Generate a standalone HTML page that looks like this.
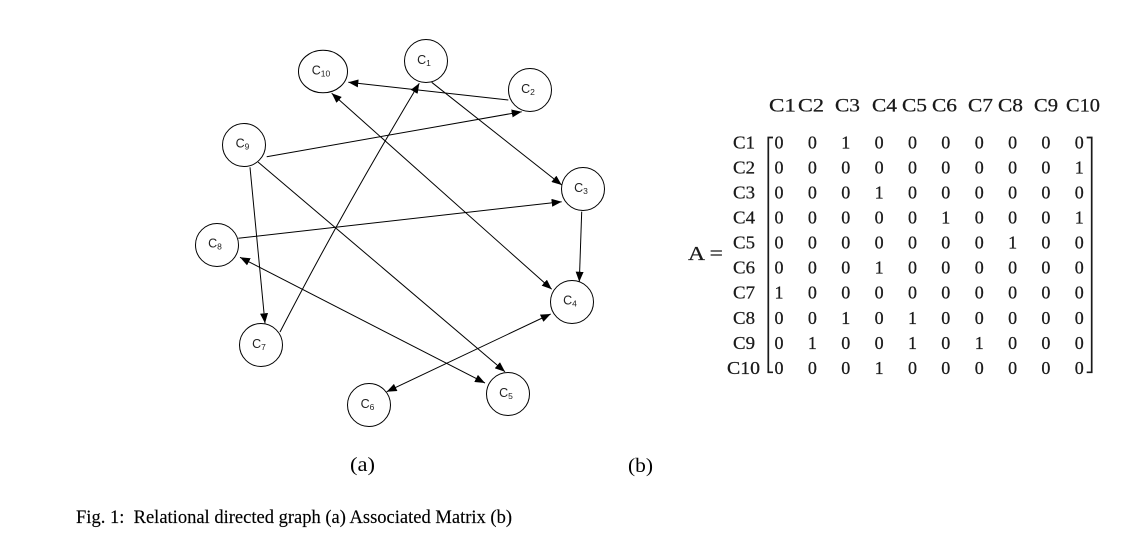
<!DOCTYPE html>
<html>
<head>
<meta charset="utf-8">
<style>
html,body{margin:0;padding:0;background:#fff;}
svg{display:block;}
</style>
</head>
<body>
<svg width="1134" height="540" viewBox="0 0 1134 540" xmlns="http://www.w3.org/2000/svg">
<defs>
<marker id="ar" viewBox="0 0 10 8" refX="10" refY="4" markerWidth="10" markerHeight="8" markerUnits="userSpaceOnUse" orient="auto-start-reverse">
<path d="M0,0L10,4L0,8z" fill="#000"/>
</marker>
</defs>
<rect width="1134" height="540" fill="#fff"/>

<!-- edges -->
<g stroke="#000" stroke-width="1" fill="none">
<path d="M508.3,100 L348.3,82.3" marker-end="url(#ar)"/>
<path d="M431.7,82.3 L561.7,185" marker-end="url(#ar)"/>
<path d="M331.7,93.3 L551.7,289.3" marker-start="url(#ar)" marker-end="url(#ar)"/>
<path d="M280,332 Q342,212 419.3,83.3" marker-end="url(#ar)"/>
<path d="M266.7,156.7 L521.7,111.7" marker-end="url(#ar)"/>
<path d="M250,167.3 L265,323.3" marker-end="url(#ar)"/>
<path d="M258,162 L505,371.7" marker-end="url(#ar)"/>
<path d="M238.3,238.3 L561.7,201.7" marker-end="url(#ar)"/>
<path d="M240,257.3 L485,383" marker-start="url(#ar)" marker-end="url(#ar)"/>
<path d="M581.7,211.7 L579.3,281.7" marker-end="url(#ar)"/>
<path d="M550.7,314 L386.7,391.7" marker-start="url(#ar)" marker-end="url(#ar)"/>
</g>

<!-- nodes -->
<g stroke="#000" stroke-width="1" fill="#fff">
<circle cx="426" cy="61" r="21.5"/>
<circle cx="530" cy="90" r="21.5"/>
<circle cx="583" cy="189" r="21.5"/>
<circle cx="572" cy="302" r="21.5"/>
<circle cx="508" cy="394" r="21.5"/>
<circle cx="369" cy="405" r="21.5"/>
<circle cx="261" cy="345" r="21.5"/>
<circle cx="217" cy="245" r="21.5"/>
<circle cx="244" cy="145" r="21.5"/>
<ellipse cx="323" cy="71.5" rx="24.5" ry="21.3"/>
</g>

<g font-family="'Liberation Sans', sans-serif" font-size="12.5" fill="#222" text-anchor="middle">
<text x="424" y="64">C<tspan font-size="8.5" dy="2">1</tspan></text>
<text x="528" y="93">C<tspan font-size="8.5" dy="2">2</tspan></text>
<text x="581" y="192">C<tspan font-size="8.5" dy="2">3</tspan></text>
<text x="570" y="304.5">C<tspan font-size="8.5" dy="2">4</tspan></text>
<text x="506" y="397">C<tspan font-size="8.5" dy="2">5</tspan></text>
<text x="367.5" y="408">C<tspan font-size="8.5" dy="2">6</tspan></text>
<text x="259" y="348">C<tspan font-size="8.5" dy="2">7</tspan></text>
<text x="215" y="247.5">C<tspan font-size="8.5" dy="2">8</tspan></text>
<text x="242.5" y="147.5">C<tspan font-size="8.5" dy="2">9</tspan></text>
<text x="321" y="74.5">C<tspan font-size="8.5" dy="2">10</tspan></text>
</g>

<!-- matrix -->
<g font-family="'Liberation Serif', serif" font-size="18.5" fill="#1a1a1a" stroke="#1a1a1a" stroke-width="0.25">
<text x="769" y="111.5" textLength="27" lengthAdjust="spacingAndGlyphs">C1</text>
<text x="798" y="111.5" textLength="26" lengthAdjust="spacingAndGlyphs">C2</text>
<text x="835" y="111.5" textLength="25" lengthAdjust="spacingAndGlyphs">C3</text>
<text x="872" y="111.5" textLength="25" lengthAdjust="spacingAndGlyphs">C4</text>
<text x="902" y="111.5" textLength="25" lengthAdjust="spacingAndGlyphs">C5</text>
<text x="932" y="111.5" textLength="25" lengthAdjust="spacingAndGlyphs">C6</text>
<text x="968" y="111.5" textLength="25" lengthAdjust="spacingAndGlyphs">C7</text>
<text x="998" y="111.5" textLength="25" lengthAdjust="spacingAndGlyphs">C8</text>
<text x="1034" y="111.5" textLength="24" lengthAdjust="spacingAndGlyphs">C9</text>
<text x="1066" y="111.5" textLength="34" lengthAdjust="spacingAndGlyphs">C10</text>

<text x="688" y="260" textLength="35" lengthAdjust="spacingAndGlyphs" font-size="19.5">A =</text>
</g>

<g font-family="'Liberation Serif', serif" font-size="18" fill="#1a1a1a" stroke="#1a1a1a" stroke-width="0.25">
<text x="733" y="148.3" textLength="22" lengthAdjust="spacingAndGlyphs">C1</text>
<text x="733" y="173.4" textLength="22" lengthAdjust="spacingAndGlyphs">C2</text>
<text x="733" y="198.4" textLength="22" lengthAdjust="spacingAndGlyphs">C3</text>
<text x="733" y="223.5" textLength="22" lengthAdjust="spacingAndGlyphs">C4</text>
<text x="733" y="248.6" textLength="22" lengthAdjust="spacingAndGlyphs">C5</text>
<text x="733" y="273.6" textLength="22" lengthAdjust="spacingAndGlyphs">C6</text>
<text x="733" y="298.7" textLength="22" lengthAdjust="spacingAndGlyphs">C7</text>
<text x="733" y="323.8" textLength="22" lengthAdjust="spacingAndGlyphs">C8</text>
<text x="733" y="348.8" textLength="22" lengthAdjust="spacingAndGlyphs">C9</text>
<text x="727" y="373.9" textLength="33" lengthAdjust="spacingAndGlyphs">C10</text>
</g>

<g font-family="'Liberation Serif', serif" font-size="18" fill="#1a1a1a" stroke="#1a1a1a" stroke-width="0.25" text-anchor="middle">
<text y="148.3"><tspan x="779">0</tspan><tspan x="812.4">0</tspan><tspan x="845.7">1</tspan><tspan x="879.1">0</tspan><tspan x="912.5">0</tspan><tspan x="945.8">0</tspan><tspan x="979.2">0</tspan><tspan x="1012.6">0</tspan><tspan x="1045.9">0</tspan><tspan x="1079.3">0</tspan></text>
<text y="173.4"><tspan x="779">0</tspan><tspan x="812.4">0</tspan><tspan x="845.7">0</tspan><tspan x="879.1">0</tspan><tspan x="912.5">0</tspan><tspan x="945.8">0</tspan><tspan x="979.2">0</tspan><tspan x="1012.6">0</tspan><tspan x="1045.9">0</tspan><tspan x="1079.3">1</tspan></text>
<text y="198.4"><tspan x="779">0</tspan><tspan x="812.4">0</tspan><tspan x="845.7">0</tspan><tspan x="879.1">1</tspan><tspan x="912.5">0</tspan><tspan x="945.8">0</tspan><tspan x="979.2">0</tspan><tspan x="1012.6">0</tspan><tspan x="1045.9">0</tspan><tspan x="1079.3">0</tspan></text>
<text y="223.5"><tspan x="779">0</tspan><tspan x="812.4">0</tspan><tspan x="845.7">0</tspan><tspan x="879.1">0</tspan><tspan x="912.5">0</tspan><tspan x="945.8">1</tspan><tspan x="979.2">0</tspan><tspan x="1012.6">0</tspan><tspan x="1045.9">0</tspan><tspan x="1079.3">1</tspan></text>
<text y="248.6"><tspan x="779">0</tspan><tspan x="812.4">0</tspan><tspan x="845.7">0</tspan><tspan x="879.1">0</tspan><tspan x="912.5">0</tspan><tspan x="945.8">0</tspan><tspan x="979.2">0</tspan><tspan x="1012.6">1</tspan><tspan x="1045.9">0</tspan><tspan x="1079.3">0</tspan></text>
<text y="273.6"><tspan x="779">0</tspan><tspan x="812.4">0</tspan><tspan x="845.7">0</tspan><tspan x="879.1">1</tspan><tspan x="912.5">0</tspan><tspan x="945.8">0</tspan><tspan x="979.2">0</tspan><tspan x="1012.6">0</tspan><tspan x="1045.9">0</tspan><tspan x="1079.3">0</tspan></text>
<text y="298.7"><tspan x="779">1</tspan><tspan x="812.4">0</tspan><tspan x="845.7">0</tspan><tspan x="879.1">0</tspan><tspan x="912.5">0</tspan><tspan x="945.8">0</tspan><tspan x="979.2">0</tspan><tspan x="1012.6">0</tspan><tspan x="1045.9">0</tspan><tspan x="1079.3">0</tspan></text>
<text y="323.8"><tspan x="779">0</tspan><tspan x="812.4">0</tspan><tspan x="845.7">1</tspan><tspan x="879.1">0</tspan><tspan x="912.5">1</tspan><tspan x="945.8">0</tspan><tspan x="979.2">0</tspan><tspan x="1012.6">0</tspan><tspan x="1045.9">0</tspan><tspan x="1079.3">0</tspan></text>
<text y="348.8"><tspan x="779">0</tspan><tspan x="812.4">1</tspan><tspan x="845.7">0</tspan><tspan x="879.1">0</tspan><tspan x="912.5">1</tspan><tspan x="945.8">0</tspan><tspan x="979.2">1</tspan><tspan x="1012.6">0</tspan><tspan x="1045.9">0</tspan><tspan x="1079.3">0</tspan></text>
<text y="373.9"><tspan x="779">0</tspan><tspan x="812.4">0</tspan><tspan x="845.7">0</tspan><tspan x="879.1">1</tspan><tspan x="912.5">0</tspan><tspan x="945.8">0</tspan><tspan x="979.2">0</tspan><tspan x="1012.6">0</tspan><tspan x="1045.9">0</tspan><tspan x="1079.3">0</tspan></text>
</g>

<!-- brackets -->
<g stroke="#1a1a1a" stroke-width="1.7" fill="none">
<path d="M773,137.5 L768.3,137.5 L768.3,372.3 L773,372.3"/>
<path d="M1086.7,137.5 L1091.7,137.5 L1091.7,372.3 L1086.7,372.3"/>
</g>

<!-- sub labels -->
<g font-family="'Liberation Serif', serif" fill="#000">
<text x="350" y="471" font-size="20" textLength="25" lengthAdjust="spacingAndGlyphs">(a)</text>
<text x="628" y="472" font-size="20" textLength="25" lengthAdjust="spacingAndGlyphs">(b)</text>
<text x="76" y="523" font-size="19" textLength="436" lengthAdjust="spacingAndGlyphs" stroke="#000" stroke-width="0.15" xml:space="preserve">Fig. 1:  Relational directed graph (a) Associated Matrix (b)</text>
</g>
</svg>
</body>
</html>
